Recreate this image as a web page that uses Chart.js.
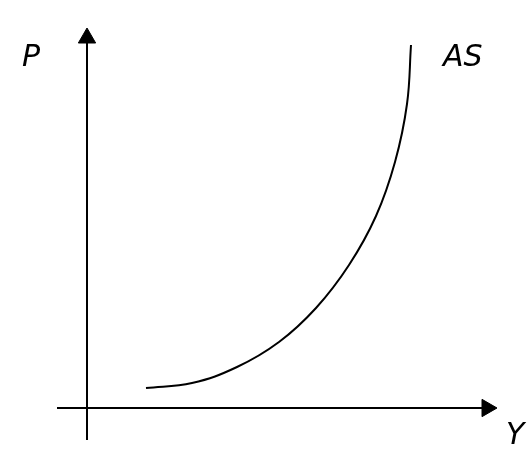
<!DOCTYPE html>
<html lang="en">
<head>
    <meta charset="UTF-8">
    <title>Aggregate Supply</title>
    <script src="https://cdn.jsdelivr.net/npm/chart.js"></script>
    <style>
        body { margin: 0; background: #fff; }
    </style>
</head>
<body>
    <canvas id="asChart" width="527" height="451"></canvas>
    <script>
        // AS curve: output (Y) against price level (P), origin at the axis crossing
        const asY = [59, 105, 150, 192, 229, 262, 289, 308, 320, 324];
        const asP = [20, 25, 41, 66, 100, 143, 192, 246, 304, 363];

        // axis ends (last point carries the arrowhead)
        const xAxisLine = [[-30, 0], [400, 0]];
        const yAxisLine = [[0, -32], [0, 370]];

        // text labels: [text, x, y]
        const labels = [['P', -65, 342], ['AS', 356, 342], ['Y', 419, -36]];

        const toPoints = pairs => pairs.map(p => ({ x: p[0], y: p[1] }));

        const axisSet = (pairs, rot) => ({
            data: toPoints(pairs),
            borderColor: '#000',
            backgroundColor: '#000',
            borderWidth: 2,
            pointStyle: 'triangle',
            pointRadius: [0, 10],
            pointBorderWidth: 1,
            rotation: [0, rot],
            showLine: true
        });

        const labelPlugin = {
            id: 'labels',
            afterDatasetsDraw(chart) {
                const ctx = chart.ctx;
                const xs = chart.scales.x, ys = chart.scales.y;
                ctx.save();
                ctx.fillStyle = '#000';
                ctx.font = 'italic 30px "DejaVu Sans"';
                ctx.textAlign = 'left';
                ctx.textBaseline = 'alphabetic';
                labels.forEach(l => {
                    ctx.fillText(l[0], xs.getPixelForValue(l[1]), ys.getPixelForValue(l[2]));
                });
                ctx.restore();
            }
        };

        new Chart(document.getElementById('asChart'), {
            type: 'scatter',
            data: {
                datasets: [
                    axisSet(xAxisLine, 90),
                    axisSet(yAxisLine, 0),
                    {
                        data: asY.map((v, i) => ({ x: v, y: asP[i] })),
                        borderColor: '#000',
                        borderWidth: 2,
                        pointRadius: 0,
                        showLine: true,
                        tension: 0.4
                    }
                ]
            },
            options: {
                responsive: false,
                animation: false,
                layout: { padding: 0, autoPadding: false },
                scales: {
                    x: { type: 'linear', min: -87, max: 440, display: false },
                    y: { type: 'linear', min: -43, max: 408, display: false }
                },
                plugins: {
                    legend: { display: false },
                    tooltip: { enabled: false }
                }
            },
            plugins: [labelPlugin]
        });
    </script>
</body>
</html>
